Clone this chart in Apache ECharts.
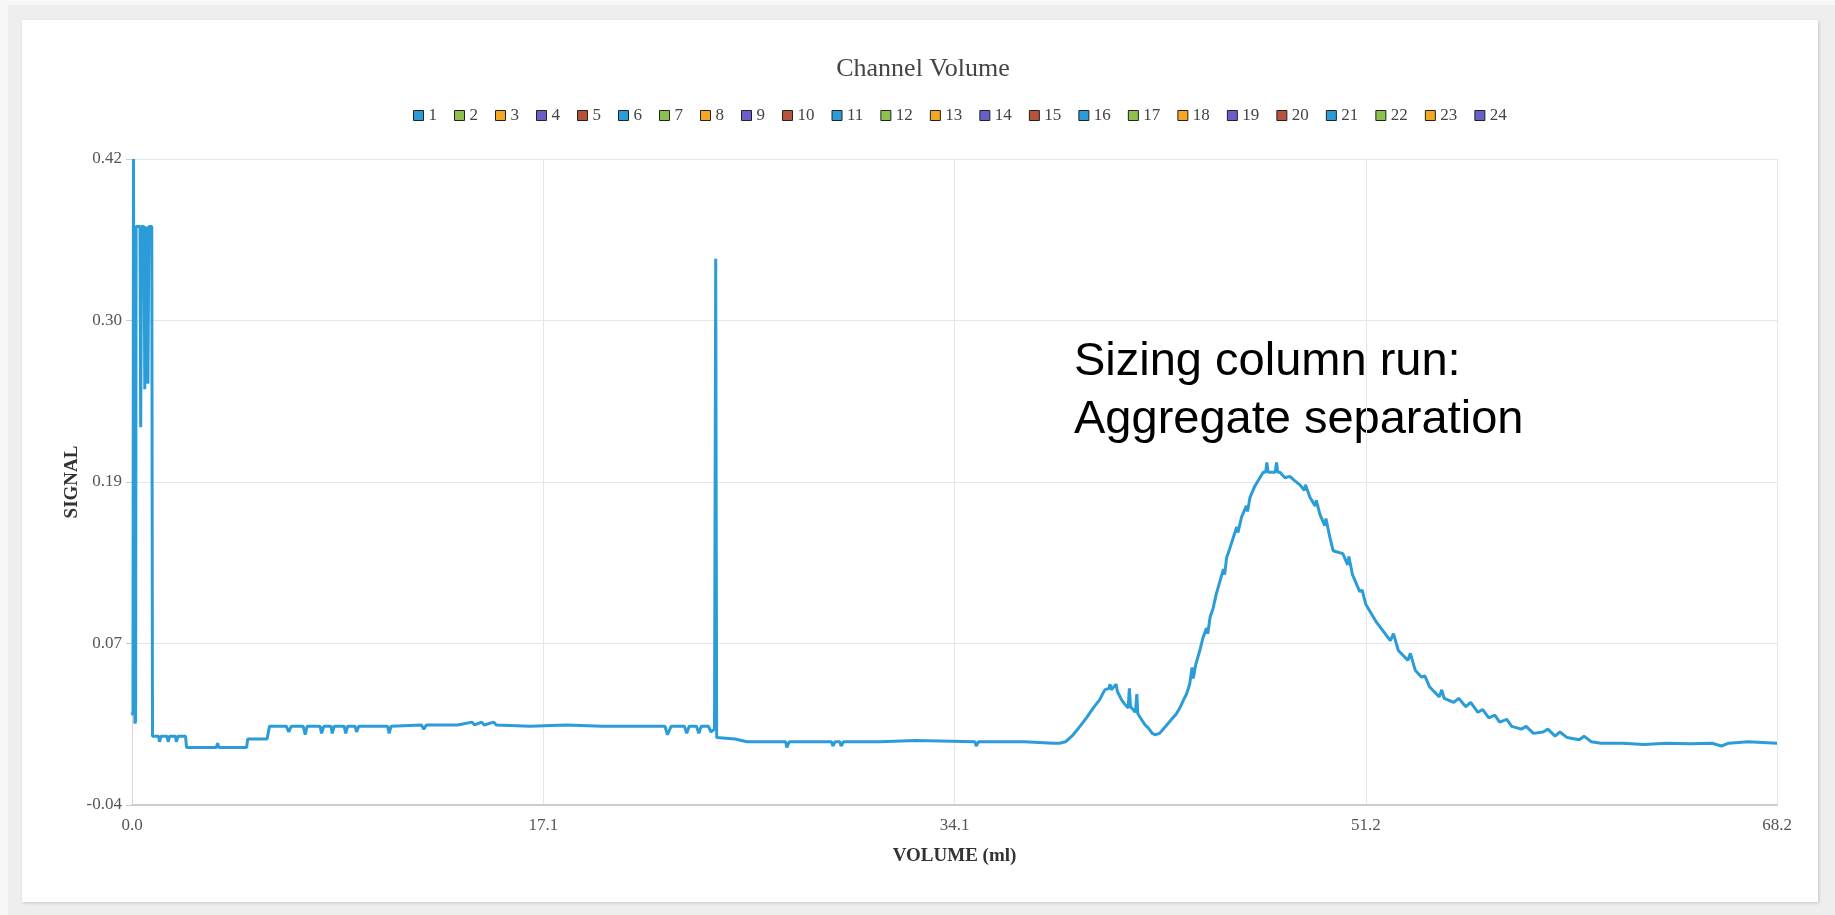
<!DOCTYPE html>
<html>
<head>
<meta charset="utf-8">
<title>Channel Volume</title>
<script src="https://cdn.jsdelivr.net/npm/echarts@6/dist/echarts.min.js"></script>
<style>
  html, body { margin: 0; padding: 0; width: 1835px; height: 915px; background: #f7f7f7; overflow: hidden; }
  #frame { position: absolute; left: 8px; top: 5px; right: 0; bottom: 0; background: #eeeeee; }
  #panel { position: absolute; left: 22px; top: 20px; width: 1796px; height: 882px; background: #ffffff;
           box-shadow: 1px 1px 3px rgba(0,0,0,0.18); }
  #chart { position: absolute; left: 0; top: 0; width: 1835px; height: 915px; }
</style>
</head>
<body>
<div id="frame"></div>
<div id="panel"></div>
<div id="chart"></div>
<script>
// Channel names shown in the legend
const channels = ['1','2','3','4','5','6','7','8','9','10','11','12','13','14','15','16','17','18','19','20','21','22','23','24'];
const channelColors = ['#2b9cd8', '#8cc152', '#f5a623', '#6a5ec8', '#b5533c'];

// Axis ticks and their printed labels
const xTickValues = [0, 17.05, 34.1, 51.15, 68.2];
const xTickLabels = ['0.0', '17.1', '34.1', '51.2', '68.2'];
const yTickValues = [-0.04, 0.075, 0.19, 0.305, 0.42];
const yTickLabels = ['-0.04', '0.07', '0.19', '0.30', '0.42'];

// Channel 1 trace: elution volume (ml)
const volume = [
  0.00, 0.04, 0.06, 0.10, 0.12, 0.15, 0.17, 0.33, 0.36, 0.40, 0.50, 0.53, 0.58, 0.66, 0.70, 0.82, 0.85,
  1.10, 1.14, 1.20, 1.45, 1.50, 1.56, 1.80, 1.84, 1.90, 2.22, 2.26, 3.50, 3.55, 3.60, 4.75, 4.80, 5.60, 5.70,
  6.40, 6.50, 6.60, 7.10, 7.18, 7.26, 7.80, 7.86, 7.95, 8.25, 8.30, 8.38, 8.80, 8.86, 8.94, 9.25, 9.31, 9.40,
  10.60, 10.66, 10.74, 12.00, 12.10, 12.20, 13.50, 14.10, 14.20, 14.50, 14.60, 15.00, 15.10, 16.50, 18.00,
  19.50, 21.00, 22.10, 22.20, 22.35, 22.90, 23.00, 23.10, 23.40, 23.50, 23.60, 23.90, 24.00, 24.15, 24.20, 24.24,
  25.00, 25.50, 27.10, 27.15, 27.25, 29.00, 29.06, 29.15, 29.35, 29.40, 29.50, 31.00, 32.50, 34.95, 35.00, 35.10,
  37.00, 38.20, 38.46,
  38.70, 39.02, 39.30, 39.57, 39.85, 40.12, 40.33, 40.50, 40.55, 40.60, 40.68, 40.80, 40.85, 41.02, 41.15, 41.30,
  41.35, 41.40, 41.60, 41.66, 41.70, 41.78, 42.00, 42.13, 42.30, 42.41, 42.60, 42.75, 42.90, 43.10, 43.30, 43.44,
  43.60, 43.72, 43.85, 43.95, 44.00, 44.10, 44.27, 44.40, 44.55, 44.60, 44.70, 44.82, 44.95, 45.10, 45.25, 45.30,
  45.38, 45.50, 45.65, 45.80, 45.85, 46.00, 46.20, 46.25, 46.35, 46.55, 46.76, 46.90, 47.00, 47.05, 47.10, 47.40,
  47.45, 47.50, 47.59, 47.80, 48.00, 48.20, 48.42, 48.60, 48.65, 48.84, 49.05, 49.10, 49.25, 49.45, 49.50, 49.67,
  49.80, 50.00, 50.20, 50.40, 50.45, 50.60, 50.90, 51.00, 51.15, 51.60, 52.17, 52.30, 52.50, 52.90, 53.00, 53.20,
  53.47, 53.60, 53.80, 54.20, 54.30, 54.40, 54.80, 55.00, 55.30, 55.50, 55.80, 56.00, 56.25, 56.50, 56.70, 57.00,
  57.20, 57.60, 57.80, 58.10, 58.50, 58.70, 59.00, 59.20, 59.50, 60.00, 60.20, 60.50, 60.90, 61.80, 62.70, 63.60,
  64.60, 65.50, 65.90, 66.20, 67.00, 68.20
];

// Channel 1 trace: detector signal
const signal = [
  0.026, 0.024, 0.420, 0.420, 0.018, 0.020, 0.372, 0.372, 0.229, 0.372, 0.372, 0.256, 0.372, 0.260, 0.372, 0.372, 0.009,
  0.009, 0.005, 0.009, 0.009, 0.005, 0.009, 0.009, 0.005, 0.009, 0.009, 0.001, 0.001, 0.004, 0.001, 0.001, 0.007, 0.007, 0.016,
  0.016, 0.012, 0.016, 0.016, 0.010, 0.016, 0.016, 0.011, 0.016, 0.016, 0.011, 0.016, 0.016, 0.011, 0.016, 0.016, 0.012, 0.016,
  0.016, 0.011, 0.016, 0.017, 0.014, 0.017, 0.017, 0.019, 0.017, 0.019, 0.017, 0.019, 0.017, 0.016, 0.017,
  0.016, 0.016, 0.016, 0.010, 0.016, 0.016, 0.011, 0.016, 0.016, 0.011, 0.016, 0.016, 0.012, 0.014, 0.349, 0.008,
  0.007, 0.005, 0.005, 0.001, 0.005, 0.005, 0.002, 0.005, 0.005, 0.002, 0.005, 0.005, 0.006, 0.005, 0.002, 0.005,
  0.005, 0.004, 0.004,
  0.005, 0.010, 0.016, 0.022, 0.029, 0.035, 0.042, 0.043, 0.046, 0.042, 0.043, 0.046, 0.041, 0.035, 0.032, 0.029,
  0.043, 0.030, 0.026, 0.039, 0.025, 0.024, 0.017, 0.015, 0.011, 0.010, 0.011, 0.014, 0.017, 0.021, 0.025, 0.029,
  0.035, 0.039, 0.046, 0.058, 0.050, 0.060, 0.070, 0.079, 0.086, 0.082, 0.094, 0.100, 0.110, 0.119, 0.128, 0.124,
  0.136, 0.142, 0.150, 0.158, 0.154, 0.165, 0.173, 0.169, 0.179, 0.187, 0.193, 0.197, 0.197, 0.204, 0.197, 0.197,
  0.204, 0.197, 0.197, 0.193, 0.194, 0.191, 0.188, 0.184, 0.188, 0.179, 0.173, 0.177, 0.167, 0.159, 0.164, 0.150,
  0.141, 0.140, 0.139, 0.131, 0.137, 0.124, 0.112, 0.113, 0.103, 0.090, 0.077, 0.082, 0.070, 0.063, 0.068, 0.056,
  0.051, 0.052, 0.044, 0.037, 0.042, 0.036, 0.033, 0.036, 0.030, 0.033, 0.026, 0.028, 0.022, 0.024, 0.019, 0.021,
  0.016, 0.014, 0.016, 0.011, 0.012, 0.014, 0.009, 0.012, 0.008, 0.0065, 0.009, 0.005, 0.004, 0.004, 0.003, 0.004,
  0.0037, 0.004, 0.002, 0.004, 0.005, 0.004
];

function nearestLabel(values, labels, v) {
  let best = 0;
  for (let i = 1; i < values.length; i++) {
    if (Math.abs(values[i] - v) < Math.abs(values[best] - v)) best = i;
  }
  return labels[best];
}

const serif = '"Liberation Serif", "Times New Roman", serif';
const trace = volume.map((v, i) => [v, signal[i]]);

const series = channels.map((name, i) => ({
  name: name,
  type: 'line',
  data: i === 0 ? trace : [],
  showSymbol: false,
  symbol: 'none',
  lineStyle: { width: 3 },
  emphasis: { disabled: true }
}));

const chart = echarts.init(document.getElementById('chart'), null, { renderer: 'canvas' });
chart.setOption({
  animation: false,
  backgroundColor: 'transparent',
  color: channelColors,
  title: {
    text: 'Channel Volume',
    left: 923,
    top: 56,
    textAlign: 'center',
    padding: 0,
    textStyle: { fontFamily: serif, fontSize: 26, fontWeight: 'normal', color: '#444' }
  },
  legend: {
    data: channels,
    left: 413,
    top: 107,
    padding: 0,
    icon: 'rect',
    itemWidth: 10,
    itemHeight: 10,
    itemGap: 17,
    itemStyle: { borderColor: '#222', borderWidth: 1 },
    textStyle: { fontFamily: serif, fontSize: 17, color: '#444' }
  },
  grid: { left: 132, right: 58, top: 159, bottom: 110, containLabel: false },
  xAxis: {
    type: 'value',
    min: 0,
    max: 68.2,
    interval: 17.05,
    name: 'VOLUME (ml)',
    nameLocation: 'middle',
    nameGap: 42,
    nameTextStyle: { fontFamily: serif, fontSize: 19, fontWeight: 'bold', color: '#333' },
    axisLine: { show: true, onZero: false, lineStyle: { color: '#cccccc', width: 2 } },
    axisTick: { show: false },
    axisLabel: {
      margin: 12,
      fontFamily: serif, fontSize: 17, color: '#555',
      formatter: v => nearestLabel(xTickValues, xTickLabels, v)
    },
    splitLine: { show: true, lineStyle: { color: '#e6e6e6', width: 1 } }
  },
  yAxis: {
    type: 'value',
    min: -0.04,
    max: 0.42,
    interval: 0.115,
    name: 'SIGNAL',
    nameLocation: 'middle',
    nameMoveOverlap: false,
    nameGap: 50,
    nameRotate: 90,
    nameTextStyle: { fontFamily: serif, fontSize: 19, fontWeight: 'bold', color: '#333' },
    axisLine: { show: true, onZero: false, lineStyle: { color: '#d6d6d6', width: 1 } },
    axisTick: { show: true, length: 6, lineStyle: { color: '#cccccc' } },
    axisLabel: {
      margin: 10,
      fontFamily: serif, fontSize: 17, color: '#555',
      formatter: v => nearestLabel(yTickValues, yTickLabels, v)
    },
    splitLine: { show: true, lineStyle: { color: '#e6e6e6', width: 1 } }
  },
  graphic: [{
    type: 'text',
    left: 1074,
    top: 333,
    silent: true,
    style: {
      text: 'Sizing column run:\nAggregate separation',
      font: '47px "Liberation Sans", Arial, sans-serif',
      lineHeight: 58,
      fill: '#000'
    }
  }],
  series: series
});
</script>
</body>
</html>
